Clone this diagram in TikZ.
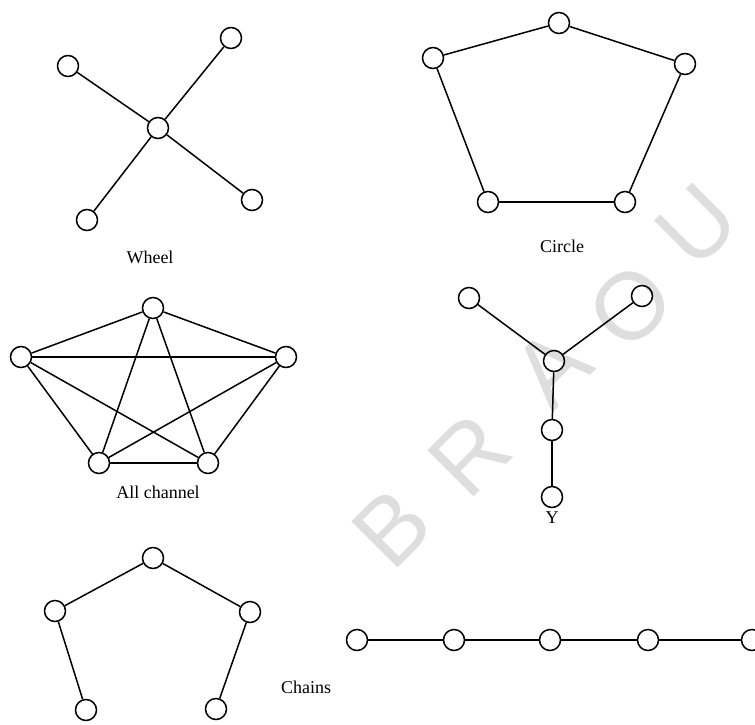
\documentclass[tikz,border=0pt]{standalone}
\usepackage{fontspec}
\setmainfont{Liberation Serif}
\newfontfamily\markfont{Liberation Sans}
\usetikzlibrary{positioning}
\definecolor{markgray}{RGB}{222,222,222}

\begin{document}
\begin{tikzpicture}[x=1pt, y=-1pt,
  member/.style={circle, draw, line width=1.5pt, minimum size=21pt, inner sep=0pt},
  link/.style={line width=1.5pt},
  caption/.style={font=\fontsize{18}{20}\selectfont},
  wmark/.style={text=markgray, font=\markfont\fontsize{95}{95}\selectfont, rotate=45}]

  \useasboundingbox (0,0) rectangle (755,724);

  % watermark behind the networks
  \node[wmark] (mB) at (392,528) {B};
  \node[wmark] (mR) at (470,455) {R};
  \node[wmark] (mA) at (552,368) {A};
  \node[wmark] (mO) at (630,306) {O};
  \node[wmark] (mU) at (697,225) {U};

  % wheel
  \node[member] (w0) at (158,128) {};
  \node[member] (w1) at (68,66)   {};
  \node[member] (w2) at (231,38)  {};
  \node[member] (w3) at (252,200) {};
  \node[member] (w4) at (87,220)  {};
  \foreach \s in {w1,w2,w3,w4}
    \draw[link] (w0) -- (\s);
  \node[caption] (lwheel) at (150,257) {Wheel};

  % circle
  \node[member] (c1) at (559,23)  {};
  \node[member] (c2) at (433,58)  {};
  \node[member] (c3) at (685,64)  {};
  \node[member] (c4) at (488,202) {};
  \node[member] (c5) at (625,202) {};
  \draw[link] (c2) -- (c1);
  \draw[link] (c1) -- (c3);
  \draw[link] (c3) -- (c5);
  \draw[link] (c5) -- (c4);
  \draw[link] (c4) -- (c2);
  \node[caption] (lcircle) at (562,246) {Circle};

  % all channel
  \node[member] (a1) at (153,308) {};
  \node[member] (a2) at (21,357)  {};
  \node[member] (a3) at (286,357) {};
  \node[member] (a4) at (99,463)  {};
  \node[member] (a5) at (208,463) {};
  \foreach \s/\t in {a1/a2,a1/a3,a1/a4,a1/a5,a2/a3,a2/a4,a2/a5,a3/a4,a3/a5,a4/a5}
    \draw[link] (\s) -- (\t);
  \node[caption] (lall) at (158,492) {All channel};

  % Y
  \node[member] (y1) at (469,298) {};
  \node[member] (y2) at (642,296) {};
  \node[member] (y3) at (554,361) {};
  \node[member] (y4) at (552,430) {};
  \node[member] (y5) at (552,497) {};
  \draw[link] (y1) -- (y3);
  \draw[link] (y2) -- (y3);
  \draw[link] (y3) -- (y4);
  \draw[link] (y4) -- (y5);
  \node[caption] (ly) at (552,518) {Y};

  % chains
  \node[member] (h1) at (153,558) {};
  \node[member] (h2) at (55,611)  {};
  \node[member] (h3) at (250,612) {};
  \node[member] (h4) at (86,710)  {};
  \node[member] (h5) at (216,709) {};
  \draw[link] (h2) -- (h1);
  \draw[link] (h1) -- (h3);
  \draw[link] (h2) -- (h4);
  \draw[link] (h3) -- (h5);
  \node[caption] (lchains) at (306,687) {Chains};

  \node[member] (r1) at (357,640) {};
  \node[member] (r2) at (454,640) {};
  \node[member] (r3) at (550,640) {};
  \node[member] (r4) at (648,640) {};
  \node[member] (r5) at (752,640) {};
  \foreach \s/\t in {r1/r2,r2/r3,r3/r4,r4/r5}
    \draw[link] (\s) -- (\t);
\end{tikzpicture}
\end{document}
